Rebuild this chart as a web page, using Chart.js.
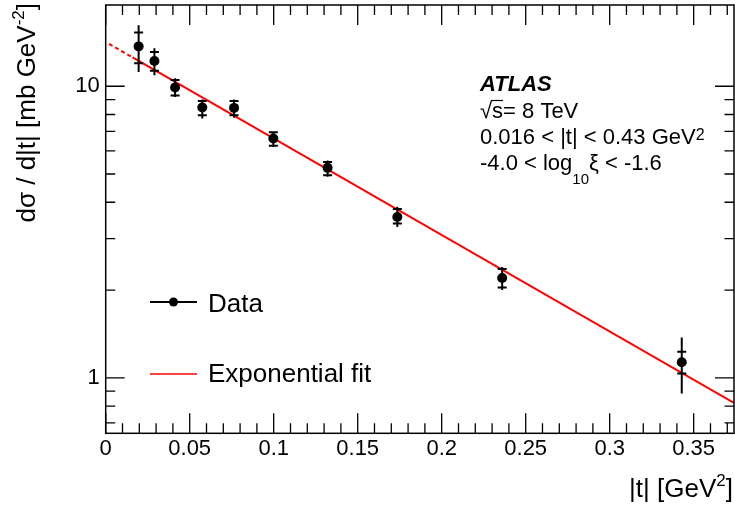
<!DOCTYPE html>
<html>
<head>
<meta charset="utf-8">
<script src="https://cdn.jsdelivr.net/npm/chart.js@4.4.1/dist/chart.umd.min.js"></script>
<style>
  html, body { margin: 0; padding: 0; background: #fff; overflow: hidden; }
  #wrap { width: 735px; height: 512px; }
  canvas { display: block; }
</style>
</head>
<body>
<div id="wrap"><canvas id="myChart" width="735" height="512"></canvas></div>
<script>
// values
const tValues = [0.0196, 0.029, 0.0413, 0.0575, 0.0764, 0.0998, 0.1321, 0.1736, 0.236, 0.3429];
const dsigma = [13.7, 12.2, 9.9, 8.45, 8.43, 6.62, 5.25, 3.56, 2.2, 1.13];
const totalUp = [16.2, 13.5, 10.65, 9.0, 9.0, 7.01, 5.56, 3.86, 2.4, 1.375];
const totalDown = [11.2, 10.9, 9.19, 7.75, 7.8, 6.19, 4.89, 3.29, 2.0, 0.884];
const statUp = [15.3, 13.1, 10.5, 8.9, 8.9, 6.95, 5.5, 3.79, 2.36, 1.228];
const statDown = [12.0, 11.3, 9.3, 7.95, 7.95, 6.25, 4.95, 3.38, 2.04, 1.035];

// exponential fit (straight on log axis), fit range + dashed extrapolation
const fitT = [0.016, 0.374];
const fitV = [12.57, 0.82];
const fitExtT = [0.002, 0.016];
const fitExtV = [13.98, 12.57];

const xTickValues = [0, 0.05, 0.1, 0.15, 0.2, 0.25, 0.3, 0.35];
const xTickLabels = ["0", "0.05", "0.1", "0.15", "0.2", "0.25", "0.3", "0.35"];
const yTickValues = [1, 10];
const yTickLabels = ["1", "10"];
const yMinorTicks = [0.7, 0.8, 0.9, 2, 3, 4, 5, 6, 7, 8, 9];

const FONT = "'Liberation Sans', Arial, Helvetica, sans-serif";

// ROOT style frame with inward ticks on all sides
const frameTicks = {
  id: "frameTicks",
  afterDraw(chart) {
    const { ctx, chartArea: a, scales: { x, y } } = chart;
    ctx.save();
    ctx.strokeStyle = "#000";
    ctx.lineWidth = 1.3;
    ctx.beginPath();
    for (let i = 0; i <= 37; i++) {
      const px = x.getPixelForValue(i / 100);
      const len = i % 5 === 0 ? 20 : 10;
      ctx.moveTo(px, a.bottom); ctx.lineTo(px, a.bottom - len);
      ctx.moveTo(px, a.top); ctx.lineTo(px, a.top + len);
    }
    yTickValues.concat(yMinorTicks).forEach((v) => {
      const py = y.getPixelForValue(v);
      const len = yTickValues.includes(v) ? 19 : 9.5;
      ctx.moveTo(a.left, py); ctx.lineTo(a.left + len, py);
      ctx.moveTo(a.right, py); ctx.lineTo(a.right - len, py);
    });
    ctx.stroke();
    ctx.lineWidth = 1.5;
    ctx.strokeRect(a.left, a.top, a.right - a.left, a.bottom - a.top);
    ctx.restore();
  },
};

// total error = vertical bar, stat error = small horizontal ticks
const errorBars = {
  id: "errorBars",
  afterDatasetsDraw(chart) {
    const { ctx, scales: { x, y } } = chart;
    ctx.save();
    ctx.strokeStyle = "#000";
    ctx.lineWidth = 2;
    ctx.beginPath();
    tValues.forEach((t, i) => {
      const px = x.getPixelForValue(t);
      ctx.moveTo(px, y.getPixelForValue(totalUp[i]));
      ctx.lineTo(px, y.getPixelForValue(totalDown[i]));
      [statUp[i], statDown[i]].forEach((v) => {
        const py = y.getPixelForValue(v);
        ctx.moveTo(px - 4.5, py); ctx.lineTo(px + 4.5, py);
      });
    });
    ctx.stroke();
    ctx.restore();
  },
};

// titles, ATLAS label and legend
const texts = {
  id: "texts",
  afterDraw(chart) {
    const { ctx } = chart;
    ctx.save();
    ctx.fillStyle = "#000";
    ctx.textBaseline = "alphabetic";
    ctx.textAlign = "left";

    // x title, right aligned
    ctx.font = "26px " + FONT;
    const a1 = "|t| [GeV", a3 = "]";
    const w1 = ctx.measureText(a1).width, w3 = ctx.measureText(a3).width;
    ctx.font = "17px " + FONT;
    const w2 = ctx.measureText("2").width;
    let x0 = 733 - w1 - w2 - w3;
    ctx.font = "26px " + FONT;
    ctx.fillText(a1, x0, 497);
    ctx.fillText(a3, x0 + w1 + w2, 497);
    ctx.font = "17px " + FONT;
    ctx.fillText("2", x0 + w1, 486);

    // y title, rotated
    ctx.save();
    ctx.translate(35, 0);
    ctx.rotate(-Math.PI / 2);
    ctx.font = "26px " + FONT;
    const b1 = "d\u03c3 / d|t| [mb GeV", b3 = "]";
    const v1 = ctx.measureText(b1).width, v3 = ctx.measureText(b3).width;
    ctx.font = "17px " + FONT;
    const v2 = ctx.measureText("-2").width;
    const start = -(3 + v1 + v2 + v3);
    ctx.font = "26px " + FONT;
    ctx.fillText(b1, start, 0);
    ctx.fillText(b3, start + v1 + v2, 0);
    ctx.font = "17px " + FONT;
    ctx.fillText("-2", start + v1, -11);
    ctx.restore();

    // ATLAS block
    const lx = 480;
    ctx.font = "bold italic 22px " + FONT;
    ctx.fillText("ATLAS", lx, 91);
    ctx.font = "22px " + FONT;
    const rw = ctx.measureText("\u221a").width;
    ctx.fillText("\u221a", lx, 117.5);
    ctx.fillText("s= 8 TeV", lx + rw, 117.5);
    const sw = ctx.measureText("s").width;
    ctx.lineWidth = 1.2;
    ctx.strokeStyle = "#000";
    ctx.beginPath();
    ctx.moveTo(lx + rw - 1, 100.5);
    ctx.lineTo(lx + rw + sw, 100.5);
    ctx.stroke();

    const c1 = "0.016 < |t| < 0.43 GeV";
    ctx.fillText(c1, lx, 143.5);
    const cw = ctx.measureText(c1).width;
    ctx.font = "16px " + FONT;
    ctx.fillText("2", lx + cw, 140);

    ctx.font = "22px " + FONT;
    const d1 = "-4.0 < log";
    ctx.fillText(d1, lx, 170);
    const dw = ctx.measureText(d1).width;
    ctx.font = "15px " + FONT;
    ctx.fillText("10", lx + dw, 184);
    const sub = ctx.measureText("10").width;
    ctx.font = "22px " + FONT;
    ctx.fillText("\u03be < -1.6", lx + dw + sub, 170);

    // legend
    ctx.lineWidth = 2;
    ctx.strokeStyle = "#000";
    ctx.beginPath();
    ctx.moveTo(150, 302); ctx.lineTo(197, 302);
    ctx.stroke();
    ctx.beginPath();
    ctx.arc(173.5, 302, 4.5, 0, Math.PI * 2);
    ctx.fill();
    ctx.strokeStyle = "#ff0000";
    ctx.lineWidth = 1.6;
    ctx.beginPath();
    ctx.moveTo(150, 374); ctx.lineTo(197, 374);
    ctx.stroke();
    ctx.font = "26px " + FONT;
    ctx.fillText("Data", 208, 311.5);
    ctx.fillText("Exponential fit", 208, 382);
    ctx.restore();
  },
};

const ctx = document.getElementById("myChart");

new Chart(ctx, {
  type: "scatter",
  data: {
    datasets: [
      {
        label: "Data",
        data: tValues.map((t, i) => ({ x: t, y: dsigma[i] })),
        pointRadius: 5,
        pointBackgroundColor: "#000",
        pointBorderWidth: 0,
        showLine: false,
        order: 0,
      },
      {
        label: "Exponential fit",
        data: fitT.map((t, i) => ({ x: t, y: fitV[i] })),
        showLine: true,
        borderColor: "#ff0000",
        borderWidth: 2,
        pointRadius: 0,
        order: 1,
      },
      {
        label: "extrapolation",
        data: fitExtT.map((t, i) => ({ x: t, y: fitExtV[i] })),
        showLine: true,
        borderColor: "#ff0000",
        borderWidth: 2,
        borderDash: [4, 3],
        pointRadius: 0,
        order: 1,
      },
    ],
  },
  options: {
    responsive: false,
    animation: false,
    devicePixelRatio: 1,
    layout: { autoPadding: false, padding: { left: 0, right: 1, top: 5, bottom: 0 } },
    plugins: { legend: { display: false }, tooltip: { enabled: false } },
    scales: {
      x: {
        type: "linear",
        bounds: "data",
        min: 0,
        max: 0.374,
        afterBuildTicks: (s) => { s.ticks = xTickValues.map((v) => ({ value: v })); },
        afterFit: (s) => {
          s.height = 78.7;
          s.paddingLeft = 0; s.paddingRight = 0; s.paddingTop = 0; s.paddingBottom = 0;
        },
        ticks: {
          autoSkip: false,
          maxRotation: 0,
          padding: 2,
          color: "#000",
          font: { family: FONT, size: 22 },
          callback: (v) => xTickLabels[xTickValues.indexOf(v)],
        },
        grid: { display: false, drawTicks: false },
        border: { display: false },
      },
      y: {
        type: "logarithmic",
        bounds: "data",
        min: 0.645,
        max: 19,
        afterBuildTicks: (s) => { s.ticks = yTickValues.map((v) => ({ value: v })); },
        afterFit: (s) => {
          s.width = 105.7;
          s.paddingLeft = 0; s.paddingRight = 0; s.paddingTop = 0; s.paddingBottom = 0;
        },
        ticks: {
          padding: 6,
          color: "#000",
          font: { family: FONT, size: 22 },
          callback: (v) => yTickLabels[yTickValues.indexOf(v)],
        },
        grid: { display: false, drawTicks: false },
        border: { display: false },
      },
    },
  },
  plugins: [errorBars, frameTicks, texts],
});
</script>
</body>
</html>
